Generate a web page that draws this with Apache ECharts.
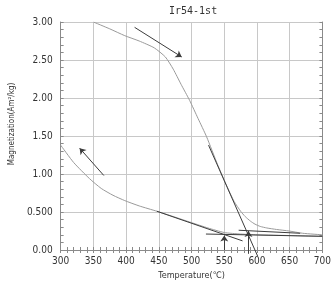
<!DOCTYPE html>
<html>
<head>
<meta charset="utf-8">
<script src="https://cdn.jsdelivr.net/npm/echarts@6/dist/echarts.min.js"></script>
<style>
  html, body { margin: 0; padding: 0; background: #fff; }
  #chart { width: 334px; height: 285px; }
</style>
</head>
<body>
<div id="chart"></div>
<script>
// 加熱曲線 (上側の灰色曲線)
var heatT = [350, 375, 398, 420, 443, 460, 472, 484, 497, 510, 523, 540, 555, 565, 575, 582, 590, 597, 605, 615, 630, 649, 670, 700];
var heatM = [3.00, 2.91, 2.82, 2.75, 2.66, 2.54, 2.38, 2.18, 1.97, 1.73, 1.49, 1.12, 0.82, 0.64, 0.51, 0.44, 0.38, 0.34, 0.31, 0.29, 0.27, 0.25, 0.22, 0.20];
// 冷却曲線 (下側の灰色曲線)
var coolT = [300, 320, 344, 362, 380, 398, 420, 447, 472, 500, 525, 550, 575, 600, 650, 700];
var coolM = [1.38, 1.15, 0.94, 0.81, 0.72, 0.65, 0.58, 0.51, 0.44, 0.36, 0.29, 0.23, 0.21, 0.20, 0.19, 0.18];
// 接線 (黒線)
var tangentLines = [
  [[526, 1.38], [601, -0.08]],
  [[447, 0.51], [578, 0.12]],
  [[522, 0.21], [700, 0.18]],
  [[572, 0.26], [666, 0.22]]
];
// 矢印
var arrows = [
  [[413, 2.93], [485, 2.54]],
  [[366, 0.98], [329, 1.34]],
  [[550, 0.00], [550, 0.19]],
  [[587, -0.05], [587, 0.25]]
];
var xTicks = [300, 700, 50];
var yTicks = [0, 3, 0.5];

var font = "'Liberation Sans Narrow', 'DejaVu Sans Condensed', sans-serif";
var gridColor = '#c8c8c8';
var frameColor = '#8a8a8a';

function pairs(xs, ys) {
  return xs.map(function (x, i) { return [x, ys[i]]; });
}
function yLabel(v) {
  if (v === 0.5) return '0.500';
  return v.toFixed(2);
}

var chart = echarts.init(document.getElementById('chart'));

var baseX = {
  type: 'value', min: xTicks[0], max: xTicks[1], interval: xTicks[2],
  axisLine: { lineStyle: { color: frameColor, width: 1 } },
  axisTick: { show: true, inside: true, length: 3, lineStyle: { color: frameColor } },
  minorTick: { show: true, splitNumber: 5, length: 3, lineStyle: { color: frameColor } },
  splitLine: { show: true, lineStyle: { color: gridColor, width: 1 } }
};
var baseY = {
  type: 'value', min: yTicks[0], max: yTicks[1], interval: yTicks[2],
  axisLine: { show: true, lineStyle: { color: frameColor, width: 1 } },
  axisTick: { show: true, inside: true, length: 3, lineStyle: { color: frameColor } },
  minorTick: { show: true, splitNumber: 5, length: 3, lineStyle: { color: frameColor } },
  splitLine: { show: true, lineStyle: { color: gridColor, width: 1 } }
};

var series = [
  {
    type: 'line', data: pairs(heatT, heatM), smooth: 0.2, symbol: 'none',
    lineStyle: { color: '#9a9a9a', width: 1 }, z: 2
  },
  {
    type: 'line', data: pairs(coolT, coolM), smooth: 0.2, symbol: 'none',
    lineStyle: { color: '#9a9a9a', width: 1 }, z: 2
  }
];
tangentLines.forEach(function (seg) {
  series.push({
    type: 'line', data: seg, symbol: 'none', clip: false,
    lineStyle: { color: '#3c3c3c', width: 1 }, z: 3
  });
});
series.push({
  type: 'lines', coordinateSystem: 'cartesian2d', clip: false,
  symbol: ['none', 'arrow'], symbolSize: 6,
  lineStyle: { color: '#3c3c3c', width: 1, opacity: 1 },
  data: arrows.map(function (a) { return { coords: a }; }),
  z: 4
});

chart.setOption({
  animation: false,
  title: {
    text: 'Ir54-1st', left: 164, top: 1,
    textStyle: { fontFamily: "'DejaVu Sans Mono', monospace", fontSize: 10, fontWeight: 'normal', color: '#333' }
  },
  grid: { left: 53, right: 9, top: 22, bottom: 33 },
  xAxis: [
    Object.assign({}, baseX, {
      position: 'bottom',
      name: 'Temperature(℃)', nameLocation: 'middle', nameGap: 21,
      nameTextStyle: { fontFamily: font, fontSize: 9, color: '#333' },
      axisLabel: { margin: 6, fontFamily: font, fontSize: 10, color: '#333' }
    }),
    Object.assign({}, baseX, {
      position: 'top', axisLabel: { show: false }, splitLine: { show: false }
    })
  ],
  yAxis: [
    Object.assign({}, baseY, {
      position: 'left',
      name: 'Magnetization(Am²/kg)', nameLocation: 'middle', nameGap: 41,
      nameTextStyle: { fontFamily: font, fontSize: 8, color: '#333', padding: [0, 0, 0, 24] },
      axisLabel: { margin: 8, fontFamily: font, fontSize: 10, color: '#333', formatter: yLabel }
    }),
    Object.assign({}, baseY, {
      position: 'right', axisLabel: { show: false }, splitLine: { show: false }
    })
  ],
  series: series
});
</script>
</body>
</html>
